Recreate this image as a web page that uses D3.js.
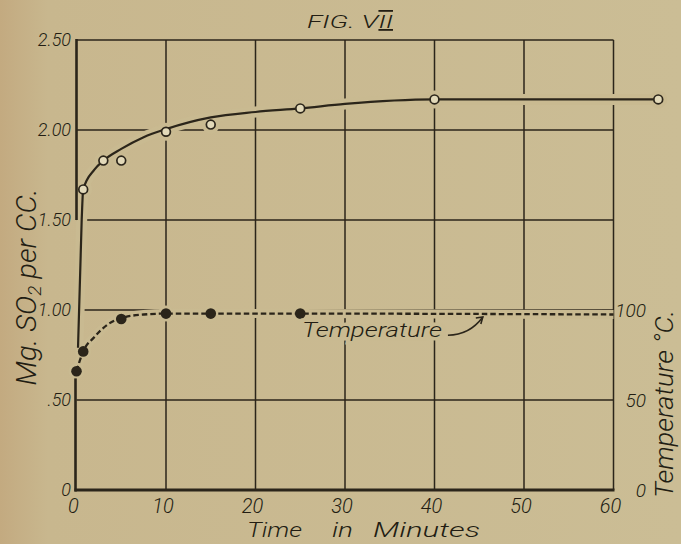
<!DOCTYPE html>
<html>
<head>
	<title>Fig. VII</title>
	<meta charset="utf-8">
	<style>
		body { margin: 0; background: #c9ba91; }
		svg { display: block; }
		text { font-family: Roboto, "Open Sans", Lato, sans-serif; font-weight: 300; font-style: italic; fill: #221d13; }
	</style>
</head>
<body>
<svg width="681" height="544"></svg>

<script src="https://d3js.org/d3.v7.min.js"></script>
<script>
	// Mg. SO2 per cc, measured points (open circles)
	const so2Time = [0.75, 3, 5, 10, 15, 25, 40, 65];
	const so2Value = [1.67, 1.83, 1.83, 1.99, 2.03, 2.12, 2.17, 2.17];
	// the smooth hand drawn curve through them
	const so2CurveTime = [0.17, 0.58, 0.75, 2, 3, 5, 7.5, 10, 15, 20, 25, 30, 40, 50, 65];
	const so2CurveValue = [0.79, 1.5, 1.67, 1.78, 1.83, 1.895, 1.96, 2.005, 2.07, 2.1, 2.12, 2.145, 2.17, 2.17, 2.17];

	// temperature, deg C (filled dots + dashed curve)
	const tempTime = [0, 0.75, 5, 10, 15, 25];
	const tempValue = [66, 77, 95, 98, 98, 98];
	const tempCurveTime = [0, 0.75, 2, 3.5, 5, 7.5, 10, 15, 25, 60];
	const tempCurveValue = [66, 77, 85, 92, 95.5, 97.5, 98, 98, 98, 97.5];

	const xTicks = [0, 10, 20, 30, 40, 50, 60];
	const yTicks = [0, 0.5, 1, 1.5, 2, 2.5];
	const yTickLabels = ['0', '.50', '1.00', '1.50', '2.00', '2.50'];
	const tTicks = [0, 50, 100];

	const ink = '#2b251a';
	const paper = '#c9ba91';

	var svg = d3.select('svg');

	var x = d3.scaleLinear().domain([0, 60]).range([76.5, 613.5]);
	var y = d3.scaleLinear().domain([0, 2.5]).range([490, 40]);
	// temperature axis: 100 deg sits on the 1.00 line
	var t = d3.scaleLinear().domain([0, 100]).range([y(0), y(1)]);

	// paper, slightly darker at the left edge
	var grad = svg.append('defs').append('linearGradient').attr('id', 'paper');
	grad.append('stop').attr('offset', '0%').attr('stop-color', '#c3aa80');
	grad.append('stop').attr('offset', '7%').attr('stop-color', '#c8b78e');
	grad.append('stop').attr('offset', '100%').attr('stop-color', '#cbbd95');
	svg.append('rect').attr('width', 681).attr('height', 544).attr('fill', 'url(#paper)');

	// grid
	var grid = svg.append('g').attr('stroke', ink).attr('stroke-width', 1.5);
	grid.selectAll('.v').data(xTicks.slice(1)).enter().append('line')
		.attr('x1', d => x(d)).attr('x2', d => x(d))
		.attr('y1', y(0)).attr('y2', y(2.5));
	grid.selectAll('.h').data(yTicks.slice(1)).enter().append('line')
		.attr('x1', x(0)).attr('x2', x(60))
		.attr('y1', d => y(d)).attr('y2', d => y(d));

	var so2Line = d3.line().curve(d3.curveMonotoneX)
		.x((d, i) => x(so2CurveTime[i])).y(d => y(d));
	var tempLine = d3.line().curve(d3.curveMonotoneX)
		.x((d, i) => x(tempCurveTime[i])).y(d => t(d));

	// paper coloured halos so the grid breaks where the curves cross it
	var halo = svg.append('g');
	halo.append('path').datum(so2CurveValue).attr('d', so2Line)
		.attr('fill', 'none').attr('stroke', paper).attr('stroke-width', 11);
	halo.append('path').datum(tempCurveValue).attr('d', tempLine)
		.attr('fill', 'none').attr('stroke', paper).attr('stroke-width', 9);
	halo.selectAll('.c1').data(so2Value).enter().append('circle')
		.attr('cx', (d, i) => x(so2Time[i])).attr('cy', d => y(d)).attr('r', 9).attr('fill', paper);
	halo.selectAll('.c2').data(tempValue).enter().append('circle')
		.attr('cx', (d, i) => x(tempTime[i])).attr('cy', d => t(d)).attr('r', 8).attr('fill', paper);

	// axes: left one is broken where the SO2 curve runs up along it
	var axes = svg.append('g').attr('stroke', ink);
	axes.append('line').attr('stroke-width', 2.6)
		.attr('x1', x(0)).attr('x2', x(0)).attr('y1', y(2.5) - 1).attr('y2', y(1.5));
	axes.append('line').attr('stroke-width', 2.6)
		.attr('x1', x(0) - 1).attr('x2', x(0) - 1).attr('y1', y(0.62)).attr('y2', y(0) + 1.5);
	axes.append('line').attr('stroke-width', 3.2)
		.attr('x1', x(0) - 2).attr('x2', x(60) + 1).attr('y1', y(0)).attr('y2', y(0));

	// curves
	svg.append('path').datum(so2CurveValue).attr('d', so2Line)
		.attr('fill', 'none').attr('stroke', ink).attr('stroke-width', 2.2);
	svg.append('path').datum(tempCurveValue).attr('d', tempLine)
		.attr('fill', 'none').attr('stroke', ink).attr('stroke-width', 2.3)
		.attr('stroke-dasharray', '5.5,3');

	svg.selectAll('.so2').data(so2Value).enter().append('circle')
		.attr('cx', (d, i) => x(so2Time[i])).attr('cy', d => y(d)).attr('r', 4.4)
		.attr('fill', '#e2d9b9').attr('stroke', ink).attr('stroke-width', 1.7);
	svg.selectAll('.temp').data(tempValue).enter().append('circle')
		.attr('cx', (d, i) => x(tempTime[i])).attr('cy', d => t(d)).attr('r', 5.3)
		.attr('fill', ink);

	// tick labels
	svg.selectAll('.yl').data(yTicks).enter().append('text')
		.attr('x', 71).attr('y', d => y(d)).attr('dy', '0.36em')
		.attr('text-anchor', 'end').attr('font-size', 18)
		.text((d, i) => yTickLabels[i]);
	svg.selectAll('.tl').data(tTicks).enter().append('text')
		.attr('x', 646).attr('y', d => t(d)).attr('dy', '0.36em')
		.attr('text-anchor', 'end').attr('font-size', 19)
		.text(d => d);
	svg.selectAll('.xl').data(xTicks).enter().append('text')
		.attr('x', d => x(d) - 3).attr('y', 513)
		.attr('text-anchor', 'middle').attr('font-size', 20)
		.text(d => d);

	// titles
	var title = svg.append('text').attr('x', 307).attr('y', 28).attr('font-size', 18)
		.attr('textLength', 86).attr('lengthAdjust', 'spacingAndGlyphs');
	title.append('tspan').text('FIG. V');
	title.append('tspan').style('text-decoration', 'overline underline').text('II');

	svg.append('text').attr('x', 247).attr('y', 537).attr('font-size', 21)
		.attr('textLength', 55).attr('lengthAdjust', 'spacingAndGlyphs').text('Time');
	svg.append('text').attr('x', 332).attr('y', 537).attr('font-size', 21)
		.attr('textLength', 21).attr('lengthAdjust', 'spacingAndGlyphs').text('in');
	svg.append('text').attr('x', 373).attr('y', 537).attr('font-size', 21)
		.attr('textLength', 107).attr('lengthAdjust', 'spacingAndGlyphs').text('Minutes');

	var ylab = svg.append('text').attr('transform', 'translate(36,287) rotate(-90)')
		.attr('text-anchor', 'middle').attr('font-size', 28)
		.attr('textLength', 197).attr('lengthAdjust', 'spacingAndGlyphs');
	ylab.append('tspan').text('Mg. SO');
	ylab.append('tspan').attr('dy', 5).attr('font-size', 18).text('2');
	ylab.append('tspan').attr('dy', -5).text(' per CC.');

	svg.append('text').attr('transform', 'translate(673,404) rotate(-90)')
		.attr('text-anchor', 'middle').attr('font-size', 25)
		.attr('textLength', 188).attr('lengthAdjust', 'spacingAndGlyphs')
		.text('Temperature °C.');

	// "Temperature" note with its arrow to the dashed line
	svg.append('text').attr('x', 302).attr('y', 337).attr('font-size', 20)
		.attr('textLength', 140).attr('lengthAdjust', 'spacingAndGlyphs')
		.attr('stroke', paper).attr('stroke-width', 7).attr('paint-order', 'stroke')
		.text('Temperature');
	var tipX = x(45.4), tipY = t(97.2) + 2;
	var tailX = x(41.5), tailY = y(0.86);
	svg.append('path')
		.attr('d', `M${tailX},${tailY} C${tailX + 14},${tailY} ${tipX - 9},${tailY - 6} ${tipX},${tipY}`)
		.attr('fill', 'none').attr('stroke', ink).attr('stroke-width', 1.6);
	svg.append('path')
		.attr('d', `M${tipX - 7},${tipY + 1} L${tipX},${tipY} L${tipX - 2},${tipY + 7}`)
		.attr('fill', 'none').attr('stroke', ink).attr('stroke-width', 1.6);
</script>
</body>
</html>
